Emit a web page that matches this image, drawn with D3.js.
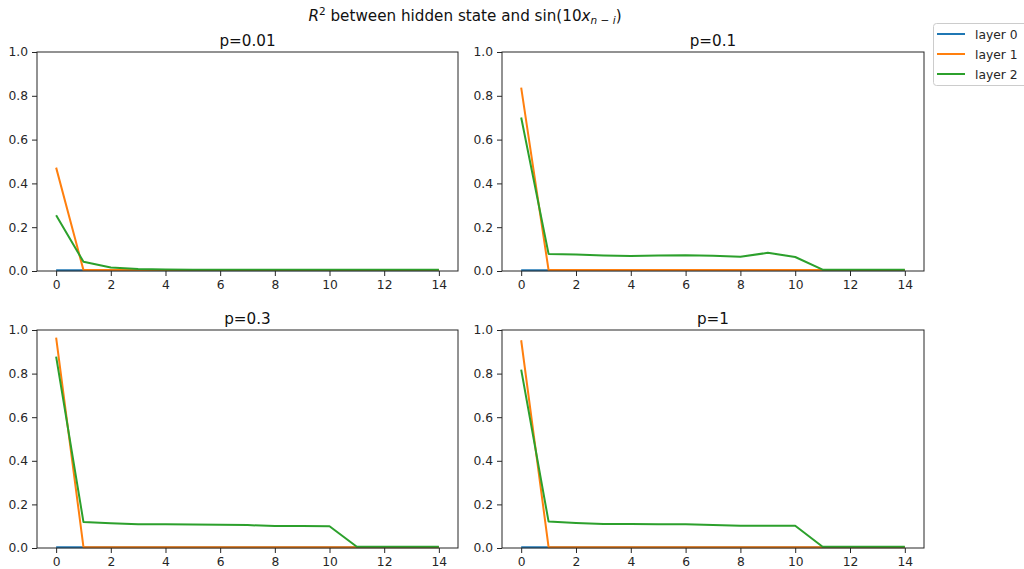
<!DOCTYPE html>
<html><head><meta charset="utf-8">
<script src="https://cdn.jsdelivr.net/npm/d3@7/dist/d3.min.js"></script>
<style>body{margin:0;background:#fff}svg{display:block;font-family:"DejaVu Sans",sans-serif}</style>
</head><body><svg id="c" width="1024" height="569"></svg>
<script>
const lags = d3.range(0, 15);
const panelTitles = ["p=0.01", "p=0.1", "p=0.3", "p=1"];
const seriesNames = ["layer 0", "layer 1", "layer 2"];
const colors = ["#1f77b4", "#ff7f0e", "#2ca02c"];
const xTicks = [0, 2, 4, 6, 8, 10, 12, 14];
const yTicks = [0, 0.2, 0.4, 0.6, 0.8, 1.0];

const p001_layer0 = [0.003,0.003,0.003,0.003,0.003,0.003,0.003,0.003,0.003,0.003,0.003,0.003,0.003,0.003,0.003];
const p001_layer1 = [0.472,0.004,0.004,0.004,0.004,0.004,0.004,0.004,0.004,0.004,0.004,0.004,0.004,0.004,0.004];
const p001_layer2 = [0.255,0.042,0.016,0.009,0.007,0.006,0.006,0.006,0.006,0.006,0.006,0.006,0.006,0.006,0.006];

const p01_layer0 = [0.003,0.003,0.003,0.003,0.003,0.003,0.003,0.003,0.003,0.003,0.003,0.003,0.003,0.003,0.003];
const p01_layer1 = [0.837,0.004,0.004,0.004,0.004,0.004,0.004,0.004,0.004,0.004,0.004,0.004,0.004,0.004,0.004];
const p01_layer2 = [0.701,0.078,0.075,0.071,0.069,0.071,0.072,0.070,0.065,0.083,0.064,0.006,0.006,0.006,0.006];

const p03_layer0 = [0.003,0.003,0.003,0.003,0.003,0.003,0.003,0.003,0.003,0.003,0.003,0.003,0.003,0.003,0.003];
const p03_layer1 = [0.965,0.004,0.004,0.004,0.004,0.004,0.004,0.004,0.004,0.004,0.004,0.004,0.004,0.004,0.004];
const p03_layer2 = [0.878,0.119,0.113,0.109,0.109,0.108,0.107,0.105,0.101,0.101,0.100,0.006,0.006,0.006,0.006];

const p1_layer0 = [0.003,0.003,0.003,0.003,0.003,0.003,0.003,0.003,0.003,0.003,0.003,0.003,0.003,0.003,0.003];
const p1_layer1 = [0.953,0.004,0.004,0.004,0.004,0.004,0.004,0.004,0.004,0.004,0.004,0.004,0.004,0.004,0.004];
const p1_layer2 = [0.818,0.121,0.115,0.110,0.110,0.109,0.109,0.106,0.102,0.102,0.102,0.006,0.006,0.006,0.006];

const panels = [
  [p001_layer0, p001_layer1, p001_layer2],
  [p01_layer0, p01_layer1, p01_layer2],
  [p03_layer0, p03_layer1, p03_layer2],
  [p1_layer0, p1_layer1, p1_layer2]
];

const svg = d3.select("#c");
const boxes = [
  {l: 37, r: 458, t: 52, b: 271},
  {l: 502, r: 924, t: 52, b: 271},
  {l: 37, r: 458, t: 330, b: 548},
  {l: 502, r: 924, t: 330, b: 548}
];
const tickFont = 12.3, titleFont = 15.2;

boxes.forEach((bx, i) => {
  const x = d3.scaleLinear().domain([-0.7, 14.7]).range([bx.l, bx.r]);
  const y = d3.scaleLinear().domain([0, 1]).range([bx.b, bx.t]);
  const g = svg.append("g");
  const line = d3.line().x((d, j) => x(lags[j])).y(d => y(d));
  panels[i].forEach((s, k) => {
    g.append("path").datum(s).attr("d", line).attr("fill", "none")
      .attr("stroke", colors[k]).attr("stroke-width", 2).attr("stroke-linejoin", "round");
  });
  const xa = g.append("g").attr("transform", `translate(0,${bx.b})`)
    .call(d3.axisBottom(x).tickValues(xTicks).tickSize(5).tickPadding(4).tickFormat(d3.format("d")));
  const ya = g.append("g").attr("transform", `translate(${bx.l},0)`)
    .call(d3.axisLeft(y).tickValues(yTicks).tickSize(5).tickPadding(4).tickFormat(d3.format(".1f")));
  [xa, ya].forEach(a => {
    a.select(".domain").remove();
    a.selectAll("text").attr("font-size", tickFont).attr("font-family", "DejaVu Sans").attr("fill", "#262626");
    a.selectAll("line").attr("stroke", "#262626").attr("stroke-width", 1);
  });
  g.append("rect").attr("x", bx.l).attr("y", bx.t).attr("width", bx.r - bx.l).attr("height", bx.b - bx.t)
    .attr("fill", "none").attr("stroke", "#262626").attr("stroke-width", 1);
  g.append("text").attr("x", (bx.l + bx.r) / 2).attr("y", bx.t - 6).attr("text-anchor", "middle")
    .attr("font-size", titleFont).attr("fill", "#111").text(panelTitles[i]);
});

// Suptitle
const st = svg.append("text").attr("x", 465).attr("y", 21).attr("text-anchor", "middle")
  .attr("font-size", titleFont).attr("fill", "#111");
st.append("tspan").attr("font-style", "italic").text("R");
st.append("tspan").attr("font-size", 10.5).attr("dy", -6).text("2");
st.append("tspan").attr("dy", 6).text(" between hidden state and sin(10");
st.append("tspan").attr("font-style", "italic").text("x");
st.append("tspan").attr("font-size", 10.5).attr("dy", 3).attr("font-style", "italic").text("n − i");
st.append("tspan").attr("dy", -3).text(")");

// Legend
const lg = svg.append("g");
lg.append("rect").attr("x", 933.5).attr("y", 23.5).attr("width", 95).attr("height", 62).attr("rx", 3)
  .attr("fill", "#fff").attr("stroke", "#ccc");
seriesNames.forEach((n, k) => {
  const yy = 34 + k * 20;
  lg.append("line").attr("x1", 937).attr("x2", 965).attr("y1", yy).attr("y2", yy)
    .attr("stroke", colors[k]).attr("stroke-width", 2);
  lg.append("text").attr("x", 975).attr("y", yy + 4.5).attr("font-size", tickFont).attr("fill", "#262626").text(n);
});
</script></body></html>
